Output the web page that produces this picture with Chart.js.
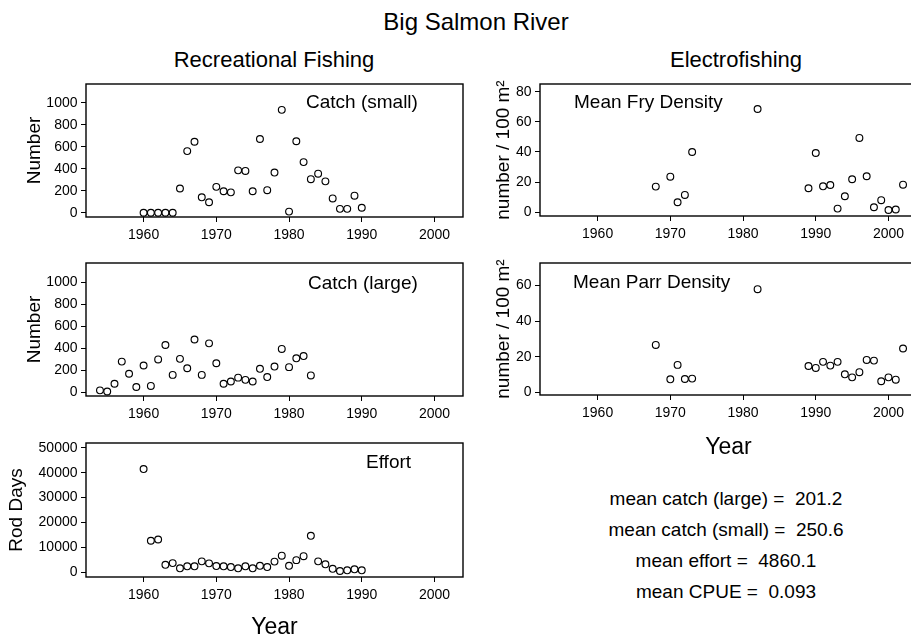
<!DOCTYPE html>
<html>
<head>
<meta charset="utf-8">
<title>Big Salmon River</title>
<script src="https://cdn.jsdelivr.net/npm/chart.js@4.4.1/dist/chart.umd.min.js"></script>
<style>
  html, body { margin: 0; padding: 0; background: #fff; }
  body {
    width: 911px; height: 637px; position: relative; overflow: hidden;
    font-family: "Liberation Sans", Arial, sans-serif; color: #000;
  }
  canvas { position: absolute; }
  .lbl { position: absolute; white-space: pre; line-height: 1; transform: translateY(-50%); }
  .ctr { transform: translate(-50%, -50%); }
</style>
</head>
<body>
<div class="lbl ctr" style="left:476px;top:22px;font-size:24px">Big Salmon River</div>
<div class="lbl ctr" style="left:274px;top:60px;font-size:22px">Recreational Fishing</div>
<div class="lbl ctr" style="left:736px;top:60px;font-size:22px">Electrofishing</div>

<canvas id="small"></canvas>
<canvas id="large"></canvas>
<canvas id="effort"></canvas>
<canvas id="fry"></canvas>
<canvas id="parr"></canvas>

<div class="lbl" style="left:306px;top:101px;font-size:19px">Catch (small)</div>
<div class="lbl" style="left:308px;top:282px;font-size:19px">Catch (large)</div>
<div class="lbl" style="left:366px;top:461px;font-size:19px">Effort</div>
<div class="lbl" style="left:574px;top:101px;font-size:19px">Mean Fry Density</div>
<div class="lbl" style="left:573px;top:281px;font-size:19px">Mean Parr Density</div>

<div class="lbl ctr" style="left:726px;top:498px;font-size:19px">mean catch (large) =  201.2</div>
<div class="lbl ctr" style="left:726px;top:529px;font-size:19px">mean catch (small) =  250.6</div>
<div class="lbl ctr" style="left:726px;top:560px;font-size:19px">mean effort =  4860.1</div>
<div class="lbl ctr" style="left:726px;top:591px;font-size:19px">mean CPUE =  0.093</div>

<script>
// recreational fishery, 1960-1990 (small) and 1954-1983 (large)
const smallYears = [1960, 1961, 1962, 1963, 1964, 1965, 1966, 1967, 1968, 1969, 1970, 1971, 1972, 1973, 1974, 1975,
  1976, 1977, 1978, 1979, 1980, 1981, 1982, 1983, 1984, 1985, 1986, 1987, 1988, 1989, 1990];
const catchSmall = [0, 0, 0, 0, 0, 220, 560, 645, 140, 95, 235, 195, 185, 385, 380, 195,
  670, 205, 365, 935, 10, 650, 460, 305, 355, 285, 130, 35, 35, 155, 45];

const largeYears = [1954, 1955, 1956, 1957, 1958, 1959, 1960, 1961, 1962, 1963, 1964, 1965, 1966, 1967, 1968,
  1969, 1970, 1971, 1972, 1973, 1974, 1975, 1976, 1977, 1978, 1979, 1980, 1981, 1982, 1983];
const catchLarge = [20, 10, 80, 280, 170, 50, 245, 60, 300, 430, 160, 305, 220, 480, 160,
  445, 265, 80, 100, 135, 115, 100, 215, 140, 235, 395, 230, 310, 330, 155];

const effortYears = smallYears;
const effort = [41500, 12600, 13100, 2900, 3600, 1500, 2300, 2300, 4300, 3500, 2400, 2300, 2000, 1500, 2300, 1500,
  2500, 2000, 4200, 6600, 2500, 4800, 6400, 14600, 4300, 3100, 1300, 400, 700, 1100, 700];

// electrofishing densities (number / 100 m2)
const efYears = [1968, 1970, 1971, 1972, 1973, 1982, 1989, 1990, 1991, 1992, 1993, 1994, 1995, 1996,
  1997, 1998, 1999, 2000, 2001, 2002];
const fryDensity = [17.0, 23.6, 6.6, 11.5, 40.0, 68.5, 15.9, 39.3, 17.2, 18.1, 2.4, 10.6, 21.9, 49.3,
  23.9, 3.3, 8.0, 1.5, 1.8, 18.3];
const parrDensity = [26.6, 7.3, 15.4, 7.5, 7.7, 57.9, 14.8, 13.7, 17.1, 15.0, 17.1, 10.1, 8.4, 11.3,
  18.2, 17.8, 6.2, 8.4, 7.1, 24.6];

const yearTicks = [1960, 1970, 1980, 1990, 2000];
const catchTicks = [0, 200, 400, 600, 800, 1000];
const effortTicks = [0, 10000, 20000, 30000, 40000, 50000];
const fryTicks = [0, 20, 40, 60, 80];
const parrTicks = [0, 20, 40, 60];

const FONT = '"Liberation Sans", Arial, sans-serif';
const PAD_TOP = 4, PAD_RIGHT = 4;

// box around the plotting region, like bty = "o"
const framePlugin = {
  id: 'frame',
  afterDatasetsDraw(chart) {
    const { ctx, chartArea: a } = chart;
    ctx.save();
    ctx.strokeStyle = '#000';
    ctx.lineWidth = 1.4;
    ctx.strokeRect(a.left, a.top, a.right - a.left, a.bottom - a.top);
    ctx.restore();
  }
};

function axisBase(ticks) {
  return {
    type: 'linear',
    afterBuildTicks: (s) => { s.ticks = ticks.map((v) => ({ value: v })); },
    ticks: {
      color: '#000', font: { family: FONT, size: 14 }, padding: 3.5,
      autoSkip: false, maxRotation: 0, callback: (v) => String(v)
    },
    grid: { drawOnChartArea: false, drawTicks: true, tickLength: 5, color: '#000', lineWidth: 1 },
    border: { display: false }
  };
}

function drawPanel(id, p) {
  const canvas = document.getElementById(id);
  const w = p.yWidth + (p.right - p.left) + PAD_RIGHT;
  const h = PAD_TOP + (p.bottom - p.top) + p.xHeight;
  canvas.width = w;
  canvas.height = h;
  canvas.style.left = (p.left - p.yWidth) + 'px';
  canvas.style.top = (p.top - PAD_TOP) + 'px';

  const x = axisBase(yearTicks);
  x.min = 1952.08;
  x.max = 2003.92;
  x.ticks.padding = 5;
  x.afterFit = (s) => { s.height = p.xHeight; s.paddingLeft = 0; s.paddingRight = 0; };
  if (p.xTitle) {
    x.title = { display: true, text: p.xTitle, color: '#000', font: { family: FONT, size: 23 },
      padding: { top: 0, bottom: p.xTitlePad } };
  }

  const y = axisBase(p.yTicks);
  y.min = p.yMin;
  y.max = p.yMax;
  y.afterFit = (s) => { s.width = p.yWidth; s.paddingTop = 0; s.paddingBottom = 0; };
  y.title = { display: true, text: p.yTitle, color: '#000', font: { family: FONT, size: 19 },
    padding: { top: p.yTitlePad, bottom: 0 } };

  return new Chart(canvas, {
    type: 'scatter',
    data: {
      datasets: [{
        data: p.xs.map((yr, i) => ({ x: yr, y: p.ys[i] })),
        pointStyle: 'circle',
        pointRadius: 3.4,
        pointHoverRadius: 3.4,
        borderWidth: 1.15,
        borderColor: '#000',
        backgroundColor: 'rgba(0,0,0,0)'
      }]
    },
    options: {
      responsive: false,
      animation: false,
      events: [],
      layout: { autoPadding: false, padding: { top: PAD_TOP, right: PAD_RIGHT, left: 0, bottom: 0 } },
      plugins: { legend: { display: false }, tooltip: { enabled: false } },
      scales: { x, y }
    },
    plugins: [framePlugin]
  });
}

drawPanel('small', {
  left: 86, top: 84, right: 463, bottom: 217, yWidth: 86, xHeight: 45,
  xs: smallYears, ys: catchSmall, yMin: -39, yMax: 1170, yTicks: catchTicks,
  yTitle: 'Number', yTitlePad: 23
});
drawPanel('large', {
  left: 86, top: 263, right: 463, bottom: 396, yWidth: 86, xHeight: 45,
  xs: largeYears, ys: catchLarge, yMin: -31, yMax: 1172, yTicks: catchTicks,
  yTitle: 'Number', yTitlePad: 23
});
drawPanel('effort', {
  left: 86, top: 443, right: 463, bottom: 577, yWidth: 86, xHeight: 64,
  xs: effortYears, ys: effort, yMin: -2000, yMax: 52000, yTicks: effortTicks,
  yTitle: 'Rod Days', yTitlePad: 5, xTitle: 'Year', xTitlePad: 0
});
drawPanel('fry', {
  left: 540, top: 84, right: 917, bottom: 216, yWidth: 80, xHeight: 45,
  xs: efYears, ys: fryDensity, yMin: -2.5, yMax: 85.1, yTicks: fryTicks,
  yTitle: 'number / 100 m²', yTitlePad: 32
});
drawPanel('parr', {
  left: 540, top: 263, right: 917, bottom: 395, yWidth: 80, xHeight: 67,
  xs: efYears, ys: parrDensity, yMin: -1.5, yMax: 72.6, yTicks: parrTicks,
  yTitle: 'number / 100 m²', yTitlePad: 32, xTitle: 'Year', xTitlePad: 1
});
</script>
</body>
</html>
